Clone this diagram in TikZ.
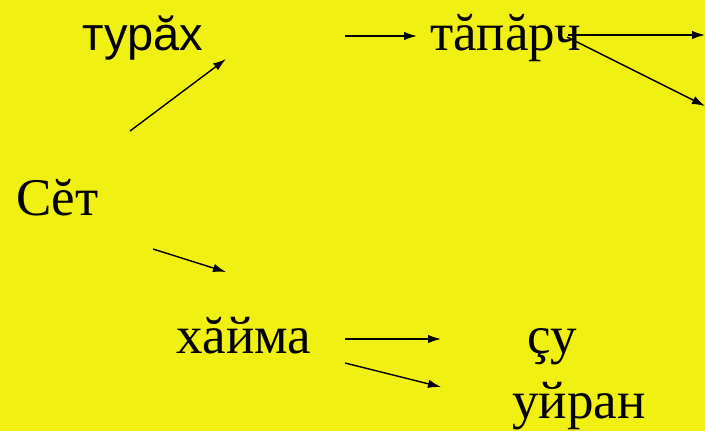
\documentclass[tikz,border=0pt]{standalone}
\usepackage{fontspec}
\setmainfont{Liberation Serif}
\newfontfamily\sansfont{Liberation Sans}
\usetikzlibrary{arrows.meta,positioning}
\definecolor{bgyellow}{RGB}{240,240,18}
\tikzset{
        wordnode/.style={anchor=base west,inner sep=0pt,font=\fontsize{53}{60}\selectfont},
        % Serif words
        node_serif/.style={wordnode},
        % Sans words
        node_sans/.style={wordnode,font=\sansfont\fontsize{47}{56}\selectfont},
        % Arrows
        flow/.style={line width=1.4pt}
}
\begin{document}
\begin{tikzpicture}[
            x=1pt, y=-1pt,
            >={Latex[length=13pt,width=8.5pt]},
            ->
        ]
            \fill[bgyellow] (0,0) rectangle (705,431);
            \useasboundingbox (0,0) rectangle (705,431);
            % words
            \node[node_sans] (turax) at (82,50) {турăх};
            \node[node_serif] (taparch) at (430,50) {тăпăрч};
            \node[node_serif] (set) at (16,215) {Сĕт};
            \node[node_serif] (hajma) at (176,353) {хăйма};
            \node[node_serif] (su) at (527,353) {çу};
            \node[node_serif] (ujran) at (512,418) {уйран};
            % arrow ends
            \coordinate (a1) at (130,131);  \coordinate (b1) at (226,59);
            \coordinate (a2) at (345,36);   \coordinate (b2) at (417,36);
            \coordinate (a3) at (568,35);   \coordinate (b3) at (705,35);
            \coordinate (a4) at (567,37);   \coordinate (b4) at (705,106);
            \coordinate (a5) at (153,249);  \coordinate (b5) at (226,272);
            \coordinate (a6) at (345,339);  \coordinate (b6) at (441,339);
            \coordinate (a7) at (345,363);  \coordinate (b7) at (441,387);
            \foreach \i in {1,...,7}
                \draw[flow] (a\i) -- (b\i);
        \end{tikzpicture}
\end{document}
